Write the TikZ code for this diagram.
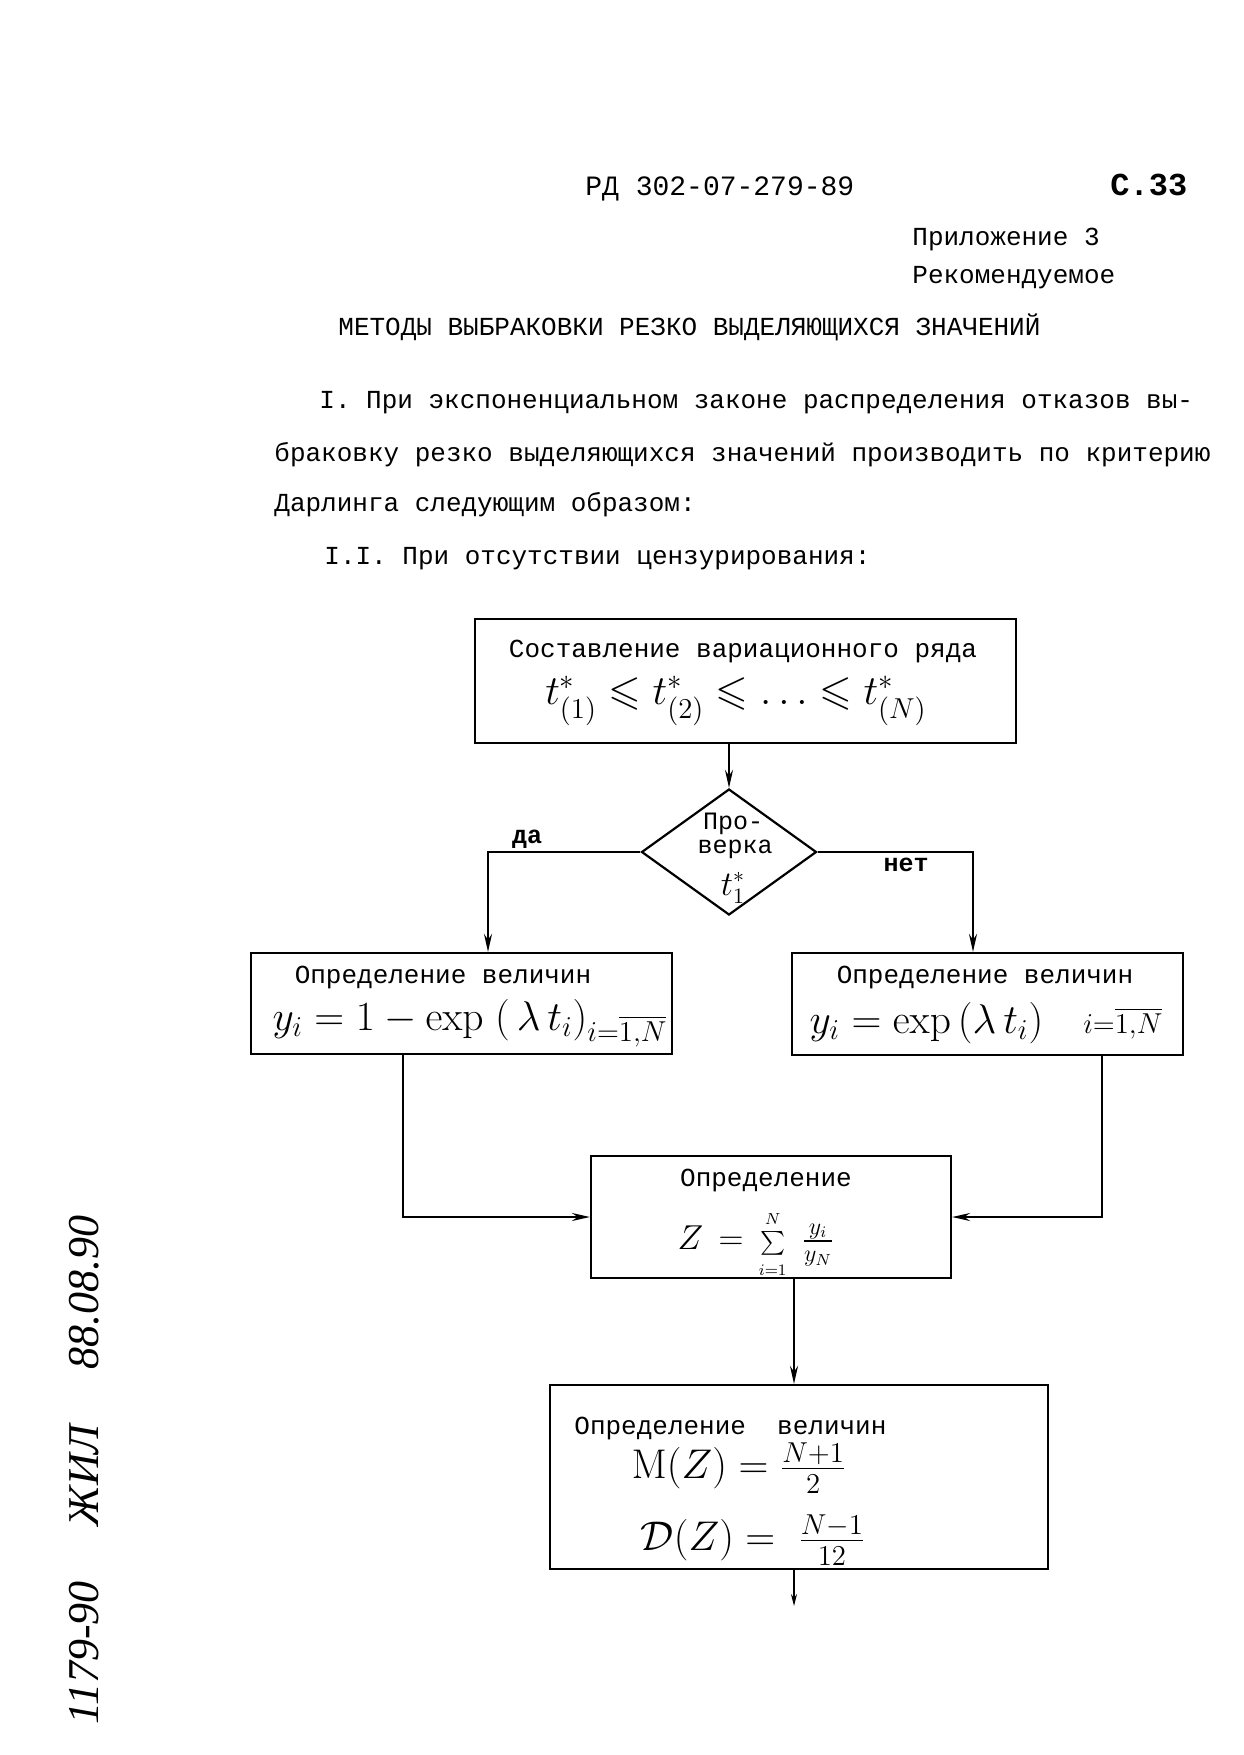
\documentclass[tikz,border=0pt]{standalone}
\usepackage{amsmath,amssymb}
\usepackage[no-math]{fontspec}
\setmainfont{Liberation Mono}
\newfontfamily\handfont{Liberation Serif}
\usetikzlibrary{arrows.meta,shapes.geometric,fit,calc}
\tikzset{
  box/.style={draw, line width=1.1pt, inner sep=0pt},
  txt/.style={font=\fontsize{13}{15}\selectfont, inner sep=0pt},
  hdr/.style={font=\fontsize{14}{16}\selectfont, inner sep=0pt},
  mth/.style={font=\fontsize{20}{24}\selectfont, inner sep=0pt},
  lbl/.style={font=\fontsize{12.5}{14}\selectfont\bfseries, inner sep=0pt},
  arr/.style={line width=1pt, -{Stealth[length=9pt,width=4pt]}},
  arrthin/.style={line width=0.6pt, -{Stealth[length=6pt,width=3pt]}}
}
\begin{document}
\begin{tikzpicture}[x=0.5pt,y=-0.5pt]
\fill[white] (0,0) rectangle (1243,1755);
\path[use as bounding box] (0,0) rectangle (1243,1755);

% header
\node[hdr, anchor=base west] (code) at (585,196) {РД 302-07-279-89};
\node[font=\fontsize{16}{18}\selectfont\bfseries, inner sep=0pt, anchor=base west] (page) at (1110,196) {С.33};
\node[txt, anchor=base west] (app) at (912,246) {Приложение 3};
\node[txt, anchor=base west] (rec) at (912,284) {Рекомендуемое};
\node[txt, anchor=base west] (title) at (338,335) {МЕТОДЫ ВЫБРАКОВКИ РЕЗКО ВЫДЕЛЯЮЩИХСЯ ЗНАЧЕНИЙ};

% paragraph
\node[txt, anchor=base west] (p1) at (319,408) {I. При экспоненциальном законе распределения отказов вы-};
\node[txt, anchor=base west] (p2) at (274,461) {браковку резко выделяющихся значений производить по критерию};
\node[txt, anchor=base west] (p3) at (274,511) {Дарлинга следующим образом:};
\node[txt, anchor=base west] (p4) at (324,564) {I.I. При отсутствии цензурирования:};

% boxes
\node[box, fit={(475,619) (1016,743)}] (top) {};
\node[draw, line width=1.1pt, diamond, minimum width=87.5pt, minimum height=63pt, inner sep=0pt] (dia) at (729,852) {};
\node[box, fit={(251,953) (672,1054)}] (lbox) {};
\node[box, fit={(792,953) (1183,1055)}] (rbox) {};
\node[box, fit={(591,1156) (951,1278)}] (mid) {};
\node[box, fit={(550,1385) (1048,1569)}] (bot) {};

% box texts
\node[txt] (toptxt) at (743,651) {Составление вариационного ряда};
\node[mth, font=\fontsize{21}{24}\selectfont] (topf) at (736,701) {$t^{*}_{(1)} \leqslant t^{*}_{(2)} \leqslant \ldots \leqslant t^{*}_{(N)}$};

\node[txt, font=\fontsize{12.5}{14}\selectfont] (d1) at (733,824) {Про-};
\node[txt, font=\fontsize{12.5}{14}\selectfont] (d2) at (735,849) {верка};
\node[mth, font=\fontsize{16}{20}\selectfont] (d3) at (733,888) {$t^{*}_{1}$};

\node[lbl] (yes) at (527,839) {да};
\node[lbl] (no) at (906,865) {нет};

\node[txt] (ltxt) at (443,977) {Определение величин};
\node[mth] (lf) at (470,1023) {$y_i = 1 - \exp\;(\,\lambda\, t_i)_{\scriptstyle i=\overline{1,N}}$};
\node[txt] (rtxt) at (985,977) {Определение величин};
\node[mth] (rf) at (986,1023) {$y_i = \exp\,(\lambda\, t_i)\quad {\scriptstyle i=\overline{1,N}}$};

\node[txt] (mtxt) at (766,1180) {Определение};
\node[mth, font=\fontsize{17}{20}\selectfont] (mf) at (756,1245) {$Z \,=\, \mathop{{\scriptstyle\sum}}\limits_{\scriptscriptstyle i=1}^{\scriptscriptstyle N} \;\frac{y_i}{y_N}$};

\node[txt, anchor=base west] (btxt) at (574,1434) {Определение\ \ величин};
\node[mth] (bf1) at (739,1468) {$\mathrm{M}(Z) = \frac{N+1}{2}$};
\node[mth] (bf2) at (753,1540) {$\mathcal{D}(Z) = \;\frac{N-1}{12}$};

% side handwritten note
\node[font=\fontsize{22}{24}\selectfont\handfont\itshape, rotate=90, inner sep=0pt] (side) at (84,1470) {1179-90 \quad ЖИЛ \quad 88.08.90};

% connector coordinates
\coordinate (lj) at (488,0);
\coordinate (rj) at (973,0);
\coordinate (lk) at (403,0);
\coordinate (rk) at (1102,0);
\coordinate (mk) at (794,0);
\coordinate (out) at (794,1606);

% connectors
\draw[arr] (dia.north |- top.south) -- (dia.north);
\draw[arr] (dia.west) -| (lbox.north -| lj);
\draw[arr] (dia.east) -| (rbox.north -| rj);
\draw[arr] (lbox.south -| lk) |- (mid.west);
\draw[arr] (rbox.south -| rk) |- (mid.east);
\draw[arr] (mid.south -| mk) -- (bot.north -| mk);
\draw[arrthin] (bot.south -| mk) -- (out);
\end{tikzpicture}
\end{document}
